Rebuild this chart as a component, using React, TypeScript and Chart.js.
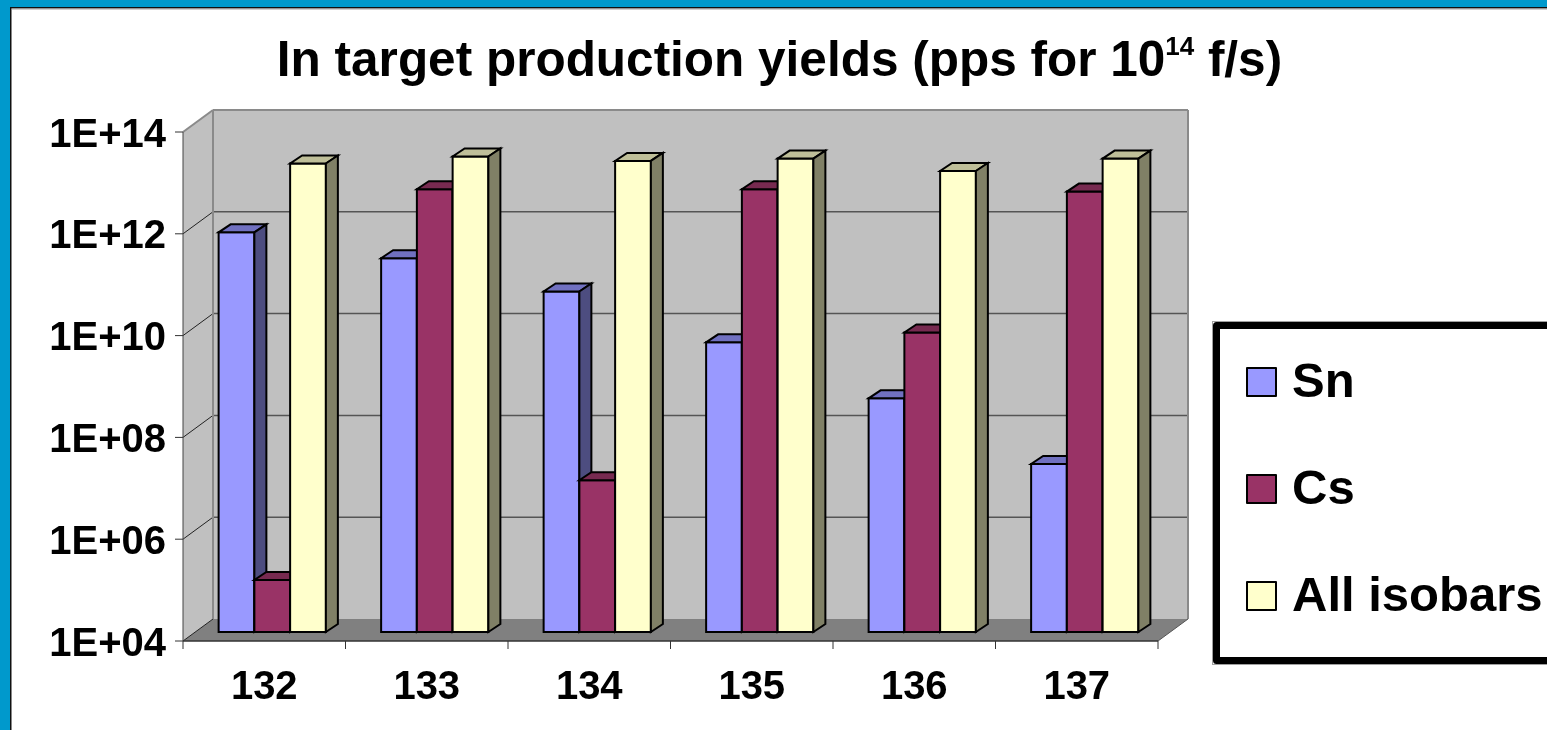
import React, { useEffect, useRef } from 'react';
import { Chart, registerables } from 'chart.js';

Chart.register(...registerables);

// Mass numbers on the category axis
const categories = ['132', '133', '134', '135', '136', '137'];

// In-target yields (pps for 1e14 fissions/s)
const snYields = [7.1e11, 2.2e11, 4.9e10, 4.9e9, 3.9e8, 2.0e7];
const csYields = [1.05e5, 5.0e12, 9.6e6, 5.0e12, 7.7e9, 4.5e12];
const allIsobarYields = [1.6e13, 2.2e13, 1.8e13, 2.0e13, 1.14e13, 2.0e13];

const seriesNames = ['Sn', 'Cs', 'All isobars'];

// Value axis
const yMin = 1e4;
const yMax = 1e14;
const yTickValues = [1e4, 1e6, 1e8, 1e10, 1e12, 1e14];
const yTickLabels = ['1E+04', '1E+06', '1E+08', '1E+10', '1E+12', '1E+14'];

const titleMain = 'In target production yields (pps for 10';
const titleSup = '14';
const titleTail = ' f/s)';

const FONT = "'Liberation Sans', Arial, Helvetica, sans-serif";

// Face shades for the 3-D columns: front, top, right side
const shades = [
  { front: '#9999FF', top: '#7070C0', side: '#4D4D80' },
  { front: '#993366', top: '#772A50', side: '#4D1A33' },
  { front: '#FFFFCC', top: '#BFBF99', side: '#808066' },
];

// Projection offsets
const WALL = { dx: 30, dy: -22 }; // depth of the box (front plane -> back wall)
const SHIFT = { dx: 8, dy: -9 }; // columns sit slightly behind the front plane
const DEPTH = { dx: 12, dy: -8 }; // depth of each column

type Pt = [number, number];

function poly(ctx: CanvasRenderingContext2D, pts: Pt[], fill?: string, stroke?: string, lw = 1) {
  ctx.beginPath();
  ctx.moveTo(pts[0][0], pts[0][1]);
  for (let i = 1; i < pts.length; i++) ctx.lineTo(pts[i][0], pts[i][1]);
  ctx.closePath();
  if (fill) {
    ctx.fillStyle = fill;
    ctx.fill();
  }
  if (stroke) {
    ctx.strokeStyle = stroke;
    ctx.lineWidth = lw;
    ctx.stroke();
  }
}

function line(ctx: CanvasRenderingContext2D, x1: number, y1: number, x2: number, y2: number, color: string, lw = 1) {
  ctx.beginPath();
  ctx.moveTo(x1, y1);
  ctx.lineTo(x2, y2);
  ctx.strokeStyle = color;
  ctx.lineWidth = lw;
  ctx.stroke();
}

const boxPlugin = {
  id: 'box3d',
  beforeDraw(chart: any) {
    const { ctx, chartArea: a, scales } = chart;
    const ys = scales.y;
    const xs = scales.x;
    const W = chart.width;
    const H = chart.height;
    ctx.save();

    // slide frame
    ctx.fillStyle = '#FFFFFF';
    ctx.fillRect(0, 0, W, H);
    ctx.fillStyle = '#0099CC';
    ctx.fillRect(0, 0, W, 7);
    ctx.fillRect(0, 0, 10, H);
    ctx.fillStyle = '#111111';
    ctx.fillRect(10, 7, W - 10, 1.5);
    ctx.fillRect(10, 7, 1.5, H - 7);
    ctx.fillStyle = '#A0A0A0';
    ctx.fillRect(11.5, 8.5, W - 11.5, 1);

    // title with superscript
    ctx.fillStyle = '#000000';
    ctx.textBaseline = 'alphabetic';
    ctx.textAlign = 'left';
    const mainFont = `bold 49.5px ${FONT}`;
    const supFont = `bold 26px ${FONT}`;
    ctx.font = mainFont;
    const w1 = ctx.measureText(titleMain).width;
    const w3 = ctx.measureText(titleTail).width;
    ctx.font = supFont;
    const w2 = ctx.measureText(titleSup).width;
    const total = w1 + w2 + w3;
    let tx = 779.5 - total / 2;
    const tBase = 76;
    ctx.font = mainFont;
    ctx.fillText(titleMain, tx, tBase);
    tx += w1;
    ctx.font = supFont;
    ctx.fillText(titleSup, tx, tBase - 21);
    tx += w2;
    ctx.font = mainFont;
    ctx.fillText(titleTail, tx, tBase);

    // walls and floor
    const bl = a.left + WALL.dx;
    const br = a.right + WALL.dx;
    const bt = a.top + WALL.dy;
    const bb = a.bottom + WALL.dy;
    poly(ctx, [[a.left, a.top], [bl, bt], [bl, bb], [a.left, a.bottom]], '#C0C0C0');
    poly(ctx, [[bl, bt], [br, bt], [br, bb], [bl, bb]], '#C0C0C0');
    poly(ctx, [[a.left, a.bottom], [a.right, a.bottom], [br, bb], [bl, bb]], '#808080');

    // gridlines on the back wall and the side wall
    yTickValues.forEach((v) => {
      const py = ys.getPixelForValue(v);
      if (v !== yMin && v !== yMax) {
        line(ctx, bl, py + WALL.dy, br, py + WALL.dy, '#555555', 1.5);
      }
      if (v !== yMax) {
        line(ctx, a.left, py, bl, py + WALL.dy, '#222222', 1);
      }
    });

    // wall edges
    line(ctx, a.left, a.top, bl, bt, '#8A8A8A', 2);
    line(ctx, bl, bt, br, bt, '#8A8A8A', 2);
    line(ctx, br, bt, br, bb, '#8A8A8A', 2);
    line(ctx, bl, bt, bl, bb, '#8A8A8A', 2);

    // axis lines
    line(ctx, a.left, a.top, a.left, a.bottom, '#444444', 1);
    line(ctx, a.left, a.bottom, a.right, a.bottom, '#333333', 1.5);
    line(ctx, a.right, a.bottom, br, bb, '#555555', 1);

    // tick marks
    yTickValues.forEach((v) => {
      const py = ys.getPixelForValue(v);
      line(ctx, a.left - 8, py, a.left, py, '#333333', 1);
    });
    const step = xs.getPixelForValue(1) - xs.getPixelForValue(0);
    for (let i = 0; i <= categories.length; i++) {
      const px = xs.getPixelForValue(0) - step / 2 + i * step;
      line(ctx, px, a.bottom, px, a.bottom + 8, '#333333', 1);
    }

    // tick labels
    ctx.fillStyle = '#000000';
    ctx.font = `bold 40px ${FONT}`;
    ctx.textAlign = 'right';
    yTickValues.forEach((v, i) => {
      const py = ys.getPixelForValue(v);
      ctx.fillText(yTickLabels[i], 166, py + 14.5);
    });
    ctx.textAlign = 'center';
    categories.forEach((c, i) => {
      ctx.fillText(c, xs.getPixelForValue(i), 699);
    });
    ctx.restore();
  },

  beforeDatasetsDraw(chart: any) {
    const { ctx, scales } = chart;
    const ys = scales.y;
    const basePx = ys.getPixelForValue(yMin);
    ctx.save();
    ctx.lineJoin = 'miter';
    const n = categories.length;
    for (let c = 0; c < n; c++) {
      for (let d = 0; d < chart.data.datasets.length; d++) {
        const el = chart.getDatasetMeta(d).data[c];
        const { x, y, width } = el.getProps(['x', 'y', 'width'], true);
        const L = x - width / 2 + SHIFT.dx;
        const R = x + width / 2 + SHIFT.dx;
        const T = y + SHIFT.dy;
        const B = basePx + SHIFT.dy;
        const s = shades[d];
        poly(ctx, [[L, T], [R, T], [R, B], [L, B]], s.front, '#000000', 2);
        poly(ctx, [[L, T], [R, T], [R + DEPTH.dx, T + DEPTH.dy], [L + DEPTH.dx, T + DEPTH.dy]], s.top, '#000000', 2);
        poly(ctx, [[R, T], [R + DEPTH.dx, T + DEPTH.dy], [R + DEPTH.dx, B + DEPTH.dy], [R, B]], s.side, '#000000', 2);
      }
    }
    ctx.restore();
    return false;
  },

  afterDraw(chart: any) {
    const { ctx } = chart;
    ctx.save();
    // legend box, running past the right edge
    ctx.fillStyle = '#FFFFFF';
    ctx.fillRect(1216.5, 325.5, 400, 335);
    ctx.strokeStyle = '#A0A0A0';
    ctx.lineWidth = 1;
    ctx.strokeRect(1212.5, 321.5, 420, 343);
    ctx.strokeStyle = '#000000';
    ctx.lineWidth = 7;
    ctx.lineJoin = 'round';
    ctx.strokeRect(1216.5, 325.5, 400, 335);

    ctx.font = `bold 49px ${FONT}`;
    ctx.textAlign = 'left';
    ctx.textBaseline = 'alphabetic';
    const rows = [368, 475, 582];
    chart.data.datasets.forEach((ds: any, i: number) => {
      const top = rows[i];
      ctx.fillStyle = shades[i].front;
      ctx.fillRect(1247, top, 29, 28);
      ctx.strokeStyle = '#000000';
      ctx.lineWidth = 2;
      ctx.strokeRect(1247, top, 29, 28);
      ctx.fillStyle = '#000000';
      ctx.fillText(ds.label, 1292, top + 29);
    });
    ctx.restore();
  },
};

export default function App() {
  const canvasRef = useRef<HTMLCanvasElement | null>(null);

  useEffect(() => {
    const canvas = canvasRef.current;
    if (!canvas) return;
    const seriesValues = [snYields, csYields, allIsobarYields];
    const chart = new Chart(canvas, {
      type: 'bar',
      data: {
        labels: categories,
        datasets: seriesValues.map((vals, i) => ({
          label: seriesNames[i],
          data: vals,
          backgroundColor: shades[i].front,
          borderColor: '#000000',
          borderWidth: 2,
          categoryPercentage: 0.66,
          barPercentage: 1,
        })),
      },
      options: {
        responsive: false,
        animation: false,
        devicePixelRatio: 1,
        events: [],
        layout: { padding: { left: 183, right: 389, top: 132, bottom: 89 } },
        plugins: {
          legend: { display: false },
          title: { display: false },
          tooltip: { enabled: false },
        },
        scales: {
          x: { type: 'category', display: false, offset: true },
          y: { type: 'logarithmic', display: false, min: yMin, max: yMax },
        },
      },
      plugins: [boxPlugin],
    });
    return () => chart.destroy();
  }, []);

  return (
    <div style={{ position: 'absolute', left: 0, top: 0, width: 1547, height: 730, overflow: 'hidden' }}>
      <canvas ref={canvasRef} width={1547} height={730} style={{ display: 'block' }} />
    </div>
  );
}
